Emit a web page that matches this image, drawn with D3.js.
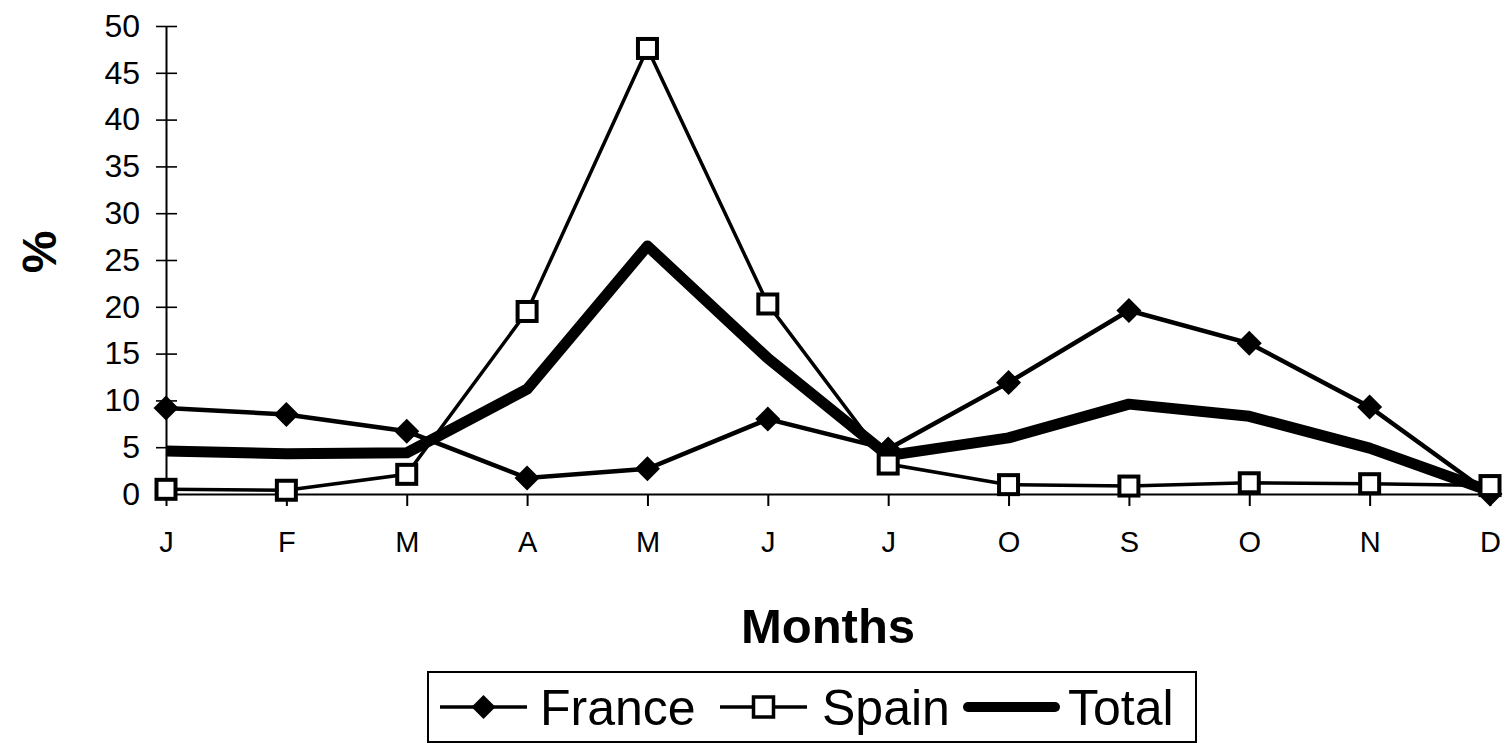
<!DOCTYPE html>
<html>
<head>
<meta charset="utf-8">
<script src="https://cdn.jsdelivr.net/npm/d3@7"></script>
<style>
  html, body { margin: 0; padding: 0; background: #fff; }
  svg { display: block; font-family: "Liberation Sans", Arial, Helvetica, sans-serif; }
</style>
</head>
<body>
<svg id="chart" width="1508" height="743"></svg>
<script>
// Monthly share (%) by country
const months = ["J", "F", "M", "A", "M", "J", "J", "O", "S", "O", "N", "D"];
const france = [9.2, 8.5, 6.7, 1.7, 2.7, 8.0, 4.8, 11.9, 19.6, 16.1, 9.3, 0.0];
const spain  = [0.5, 0.4, 2.1, 19.5, 47.6, 20.3, 3.2, 1.0, 0.85, 1.2, 1.1, 0.9];
const total  = [4.6, 4.3, 4.4, 11.2, 26.5, 14.5, 4.1, 6.0, 9.6, 8.3, 4.9, 0.3];
const yTicks = [0, 5, 10, 15, 20, 25, 30, 35, 40, 45, 50];
const seriesNames = ["France", "Spain", "Total"];

const svg = d3.select("#chart");
const plotLeft = 166, plotRight = 1490, plotTop = 26, plotBottom = 494;
const FONT = "Liberation Sans, Arial, sans-serif";

const idx = months.map((_, i) => i);
const x = d3.scalePoint().domain(idx).range([plotLeft, plotRight]).padding(0);
const y = d3.scaleLinear().domain([0, 50]).range([plotBottom, plotTop]);

// Y axis: ticks cross the axis line
const yAxis = svg.append("g")
  .attr("transform", `translate(${plotLeft},0)`)
  .call(d3.axisLeft(y).tickValues(yTicks).tickSize(10).tickSizeOuter(0).tickPadding(16));
yAxis.select(".domain").attr("stroke", "#000").attr("stroke-width", 2);
yAxis.selectAll(".tick line").attr("x1", 11).attr("stroke", "#000").attr("stroke-width", 1.6);
yAxis.selectAll(".tick text").attr("font-size", 32).attr("fill", "#000")
  .attr("font-family", FONT);

// X axis
const xAxis = svg.append("g")
  .attr("transform", `translate(0,${plotBottom})`)
  .call(d3.axisBottom(x).tickFormat(i => months[i]).tickSize(12).tickSizeOuter(0).tickPadding(25));
xAxis.select(".domain").attr("stroke", "#000").attr("stroke-width", 2);
xAxis.selectAll(".tick line").attr("stroke", "#000").attr("stroke-width", 2);
xAxis.selectAll(".tick text").attr("font-size", 29).attr("fill", "#000")
  .attr("font-family", FONT);

// Axis titles
svg.append("text")
  .attr("transform", "translate(56,252) rotate(-90)")
  .attr("text-anchor", "middle")
  .attr("font-size", 48).attr("font-weight", "bold")
  .text("%");

svg.append("text")
  .attr("x", 828).attr("y", 643)
  .attr("text-anchor", "middle")
  .attr("font-size", 49).attr("font-weight", "bold")
  .text("Months");

const line = d3.line().x((d, i) => x(i)).y(d => y(d));

// Total: heavy line, no markers
svg.append("path").datum(total)
  .attr("d", line).attr("fill", "none")
  .attr("stroke", "#000").attr("stroke-width", 11).attr("stroke-linejoin", "round");

// Spain: thin line with open squares
svg.append("path").datum(spain)
  .attr("d", line).attr("fill", "none")
  .attr("stroke", "#000").attr("stroke-width", 3.5);

// France: line with filled diamonds
svg.append("path").datum(france)
  .attr("d", line).attr("fill", "none")
  .attr("stroke", "#000").attr("stroke-width", 4.5);

const diamond = (cx, cy, r) => `M${cx},${cy - r}L${cx + r},${cy}L${cx},${cy + r}L${cx - r},${cy}Z`;

svg.append("g").selectAll("path").data(france).join("path")
  .attr("d", (d, i) => diamond(x(i), y(d), 12.5))
  .attr("fill", "#000");

svg.append("g").selectAll("rect").data(spain).join("rect")
  .attr("x", (d, i) => x(i) - 9.5).attr("y", d => y(d) - 9.5)
  .attr("width", 19).attr("height", 19)
  .attr("fill", "#fff").attr("stroke", "#000").attr("stroke-width", 4);

// Legend
const lg = svg.append("g");
lg.append("rect")
  .attr("x", 428).attr("y", 672).attr("width", 768).attr("height", 70)
  .attr("fill", "#fff").attr("stroke", "#000").attr("stroke-width", 2);

const legendY = 707;
const items = [
  { name: seriesNames[0], x0: 440, x1: 527, tx: 540 },
  { name: seriesNames[1], x0: 720, x1: 807, tx: 822 },
  { name: seriesNames[2], x0: 968, x1: 1055, tx: 1068 }
];
items.forEach((it, k) => {
  const cx = (it.x0 + it.x1) / 2;
  lg.append("line").attr("x1", it.x0).attr("x2", it.x1).attr("y1", legendY).attr("y2", legendY)
    .attr("stroke", "#000").attr("stroke-width", k === 2 ? 10 : 3.5)
    .attr("stroke-linecap", k === 2 ? "round" : "butt");
  if (k === 0) {
    lg.append("path").attr("d", diamond(cx, legendY, 12)).attr("fill", "#000");
  } else if (k === 1) {
    lg.append("rect").attr("x", cx - 10).attr("y", legendY - 10).attr("width", 20).attr("height", 20)
      .attr("fill", "#fff").attr("stroke", "#000").attr("stroke-width", 3.5);
  }
  lg.append("text").attr("x", it.tx).attr("y", 725)
    .attr("font-size", 50).attr("fill", "#000").text(it.name);
});
</script>
</body>
</html>
